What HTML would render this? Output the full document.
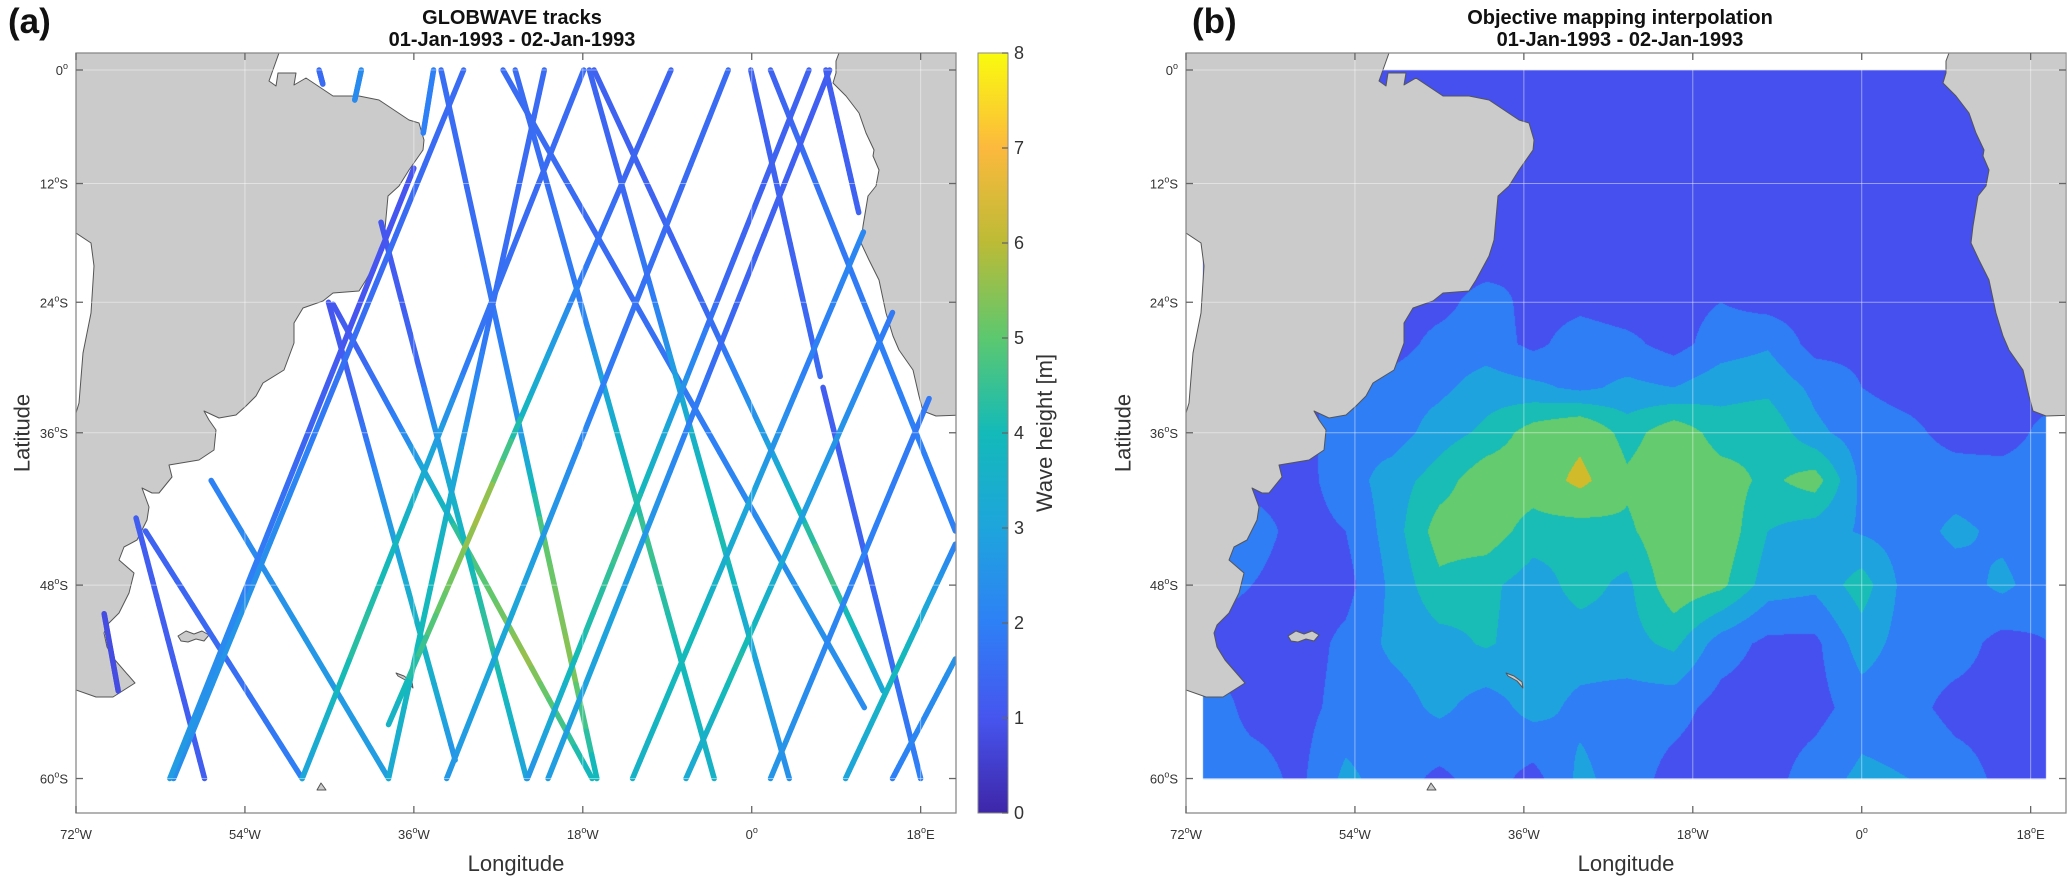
<!DOCTYPE html>
<html><head><meta charset="utf-8"><style>
html,body{margin:0;padding:0;background:#fff;}
#wrap{position:relative;width:2067px;height:877px;overflow:hidden;font-family:"Liberation Sans",sans-serif;}
canvas,svg{position:absolute;left:0;top:0;}
</style></head><body>
<div id="wrap">
<canvas id="cv" width="2067" height="877"></canvas>
<svg id="sv" width="2067" height="877" xmlns="http://www.w3.org/2000/svg">
<defs>
<clipPath id="clipA"><rect x="76" y="53" width="880" height="760"/></clipPath>
<clipPath id="clipB"><rect x="1186" y="53" width="879" height="760"/></clipPath>
<linearGradient id="cbgrad" x1="0" y1="1" x2="0" y2="0">
<stop offset="0" stop-color="#3e26a8"/><stop offset="0.125" stop-color="#4655ef"/><stop offset="0.25" stop-color="#2e80f6"/>
<stop offset="0.375" stop-color="#1ea5dc"/><stop offset="0.5" stop-color="#13bab9"/><stop offset="0.625" stop-color="#5cc86f"/>
<stop offset="0.75" stop-color="#bcbb36"/><stop offset="0.875" stop-color="#fcb93d"/><stop offset="1" stop-color="#f9fb0e"/>
</linearGradient>
</defs>
<g id="landA" clip-path="url(#clipA)"></g>
<g id="tracks" clip-path="url(#clipA)"></g>
<g id="landB" clip-path="url(#clipB)"></g>
<g id="grids"></g>
<g id="axes"></g>
<rect x="978" y="53" width="30" height="760" fill="url(#cbgrad)" stroke="#8a8a8a" stroke-width="1"/>
<g id="cbticks"></g>
<text x="1052" y="433" transform="rotate(-90 1052 433)" text-anchor="middle" font-size="22" fill="#333">Wave height [m]</text>
<text x="8" y="33" font-size="35" font-weight="bold" fill="#111">(a)</text>
<text x="1192" y="33" font-size="35" font-weight="bold" fill="#111">(b)</text>
<text x="512" y="24" text-anchor="middle" font-size="20" font-weight="bold" fill="#111">GLOBWAVE tracks</text>
<text x="512" y="46" text-anchor="middle" font-size="20" font-weight="bold" fill="#111">01-Jan-1993 - 02-Jan-1993</text>
<text x="1620" y="24" text-anchor="middle" font-size="20" font-weight="bold" fill="#111">Objective mapping interpolation</text>
<text x="1620" y="46" text-anchor="middle" font-size="20" font-weight="bold" fill="#111">01-Jan-1993 - 02-Jan-1993</text>
<text x="516" y="871" text-anchor="middle" font-size="22" fill="#333">Longitude</text>
<text x="1626" y="871" text-anchor="middle" font-size="22" fill="#333">Longitude</text>
<text x="22" y="433" transform="rotate(-90 22 433)" text-anchor="middle" dominant-baseline="central" font-size="22" fill="#333">Latitude</text>
<text x="1123" y="433" transform="rotate(-90 1123 433)" text-anchor="middle" dominant-baseline="central" font-size="22" fill="#333">Latitude</text>
</svg>
</div>
<script>
// ---- data ----
const lonTicks = [-72, -54, -36, -18, 0, 18];
const lonTickLabels = ["72", "54", "36", "18", "0", "18"];
const lonTickSuffix = ["W", "W", "W", "W", "", "E"];
const latTicks = [0, -12, -24, -36, -48, -60];
const latTickLabels = ["0", "12", "24", "36", "48", "60"];
const latTickSuffix = ["", "S", "S", "S", "S", "S"];
const cbTicks = [0, 1, 2, 3, 4, 5, 6, 7, 8];

const trackLon0 = [-46.1,-33.1,-26.5,-25.2,-17.3,-16.8,-0.1,7.6,2.0,7.9,-45.1,-44.6,-39.5,-57.6,-65.6,-64.6,-69.0,
                   -41.6,-33.9,-30.7,-22.1,-17.9,-8.6,-2.5,6.1,8.3,-36.0,11.9,15.0,18.9,21.7,21.7];
const trackLat0 = [0,0,0,0,0,0,0,-32,0,0,-24,-24.2,-16,-40,-43,-44,-50,
                   0,0,0,0,0,0,0,0,0,-10.4,-17,-25,-33,-45,-53];
const trackLon1 = [-45.7,-16.5,12,-4,4,14,7.3,18,21.7,11.4,-31.6,-17,-24,-38.7,-58.3,-47.9,-67.5,
                   -42.3,-35,-61.6,-38.7,-47.9,-38.7,-32.5,-23.9,-21.7,-62,-12.7,-7,2,10,15];
const trackLat1 = [-1.5,-60,-56,-60,-60,-55,-31,-60,-44,-15,-59,-60,-60,-60,-60,-60,-55,
                   -3.2,-6.7,-60,-60,-60,-57,-60,-60,-60,-60,-60,-60,-60,-60,-60];
const trackVals = [
 [1.5,1.5],[1.6,1.5,1.8,2.5,5.0,5.5,3.8],[1.5,1.5,1.5,1.8,2.2,2.5,2.3],[1.5,1.6,2.0,3.5,4.6,4.0,3.6],
 [1.4,1.4,2.0,3.5,4.2,3.0,2.4],[1.3,1.3,1.5,2.8,4.8,3.0],[1.3,1.3,1.5],[1.2,1.3,1.5,2.0],
 [1.3,1.8,2.0,2.0],[1.2,1.3],[1.0,1.5,2.8,3.8,2.5],[1.0,2.0,4.6,5.6,3.8],[1.0,1.4,3.5,4.5,3.0],
 [2.0,2.6,2.8],[1.2,1.2],[1.3,1.5,2.0],[0.8,0.8],
 [2.3,2.3],[2.0,2.0],[1.5,1.5,1.6,2.2,2.6,2.4],[1.5,1.5,1.6,2.5,3.8,4.0,3.2],[1.5,1.5,1.8,3.5,4.4,3.0],
 [1.4,1.4,2.0,3.5,5.8,5.0,3.5],[1.5,1.5,1.8,2.5,3.2,2.6],[1.3,1.3,1.5,3.0,4.6,4.0,2.5],[1.2,1.3,1.5,2.5,3.0,2.8],
 [1.0,1.0,1.5,2.2,2.8],[2.2,2.0,3.0,4.0,3.6],[1.8,2.5,3.0,4.2,3.2],[1.8,2.0,2.2,2.6],[2.0,4.0,3.0],[2.5,2.0]];

const gridLons = [-70,-65,-60,-55,-50,-45,-40,-35,-30,-25,-20,-15,-10,-5,0,5,10,15,20];
const gridLats = [0,-4,-8,-12,-16,-20,-24,-28,-32,-36,-40,-44,-48,-52,-56,-60];
const row00 = [1.2,1.2,1.2,1.2,1.2,1.2,1.2,1.2,1.2,1.2,1.2,1.2,1.2,1.2,1.2,1.2,1.2,1.2,1.2];
const row04 = [1.2,1.2,1.2,1.2,1.2,1.2,1.2,1.2,1.2,1.2,1.2,1.2,1.2,1.2,1.2,1.2,1.2,1.2,1.2];
const row08 = [1.2,1.2,1.2,1.2,1.2,1.2,1.2,1.2,1.2,1.2,1.2,1.2,1.2,1.2,1.2,1.2,1.2,1.2,1.2];
const row12 = [1.2,1.2,1.2,1.2,1.2,1.2,1.2,1.2,1.2,1.2,1.2,1.2,1.2,1.2,1.2,1.2,1.3,1.2,1.2];
const row16 = [1.2,1.2,1.2,1.2,1.2,1.2,1.2,1.4,1.2,1.2,1.3,1.2,1.2,1.2,1.2,1.2,1.3,1.2,1.2];
const row20 = [1.2,1.2,1.2,1.2,1.2,1.2,1.2,1.6,1.2,1.2,1.2,1.4,1.2,1.2,1.2,1.4,1.5,1.2,1.2];
const row24 = [1.2,1.2,1.2,1.2,1.2,1.3,2.0,1.3,1.4,1.2,1.3,1.6,1.3,1.2,1.3,1.2,1.2,1.2,1.2];
const row28 = [1.2,1.2,1.2,1.2,1.2,1.9,2.0,1.4,2.0,1.8,1.3,2.0,2.3,1.3,1.4,1.2,1.2,1.3,1.2];
const row32 = [1.2,1.2,1.2,2.0,2.0,2.2,2.8,2.6,2.2,2.6,2.4,2.9,3.0,2.2,1.6,1.3,1.3,1.4,1.2];
const row36 = [1.2,1.2,1.2,2.2,2.0,2.8,3.4,4.4,5.0,3.6,4.6,3.6,3.8,2.6,2.0,1.8,1.3,1.2,1.9];
const row40 = [1.2,1.3,1.3,2.0,2.8,3.6,4.6,4.5,5.8,4.2,4.8,4.4,3.8,4.4,2.2,2.0,2.0,2.0,2.0];
const row44 = [1.2,2.0,1.3,1.6,2.8,4.4,4.5,3.6,3.4,3.8,4.8,4.6,3.2,2.8,2.3,2.0,2.6,2.2,1.9];
const row48 = [2.0,1.6,1.2,1.3,2.6,3.8,3.4,2.8,3.5,3.0,4.6,4.2,2.8,2.6,3.6,2.0,2.0,2.6,1.9];
const row52 = [1.2,1.2,1.2,1.8,2.6,2.9,3.3,2.8,2.8,2.9,3.4,2.0,1.4,1.4,2.8,2.0,2.0,1.3,1.6];
const row56 = [2.2,1.3,1.3,1.9,2.0,2.6,2.0,2.7,2.2,2.0,1.9,1.3,1.2,1.3,2.0,1.9,1.3,1.3,1.4];
const row60 = [1.9,2.0,1.4,2.6,2.0,1.4,2.0,1.3,2.6,2.0,1.3,1.2,1.3,2.0,2.6,2.4,2.0,1.4,1.4];
const gridValues = [row00,row04,row08,row12,row16,row20,row24,row28,row32,row36,row40,row44,row48,row52,row56,row60];
const levelBounds = [1.0,1.6,2.4,3.2,4.0,5.4];

const levelColors = ["#3b2fc2","#4650ee","#2f7ef6","#1fa3df","#19bdb5","#64cb6e","#d2bb2b"];
const parulaStops = [[0,[62,38,168]],[0.125,[70,85,239]],[0.25,[46,128,246]],[0.375,[30,165,220]],[0.5,[19,186,185]],
  [0.625,[92,200,111]],[0.75,[188,187,54]],[0.875,[252,185,61]],[1,[249,251,14]]];
const PA = 76, PB = 1186, PX = 9.385;
function X(lon, left){ return left + (lon + 72) * PX; }
function Y(lat){ const r = lat * Math.PI / 180; return 70 - 538 * Math.log(Math.tan(Math.PI / 4 + r / 2)); }
function latFromY(y){ const m = -(y - 70) / 538; return (2 * Math.atan(Math.exp(m)) - Math.PI / 2) * 180 / Math.PI; }
function parula(t){
  t = Math.max(0, Math.min(1, t));
  for (let i = 1; i < parulaStops.length; i++) {
    if (t <= parulaStops[i][0]) {
      const a = parulaStops[i-1], b = parulaStops[i], f = (t - a[0]) / (b[0] - a[0]);
      const c = a[1].map((v, k) => Math.round(v + (b[1][k] - v) * f));
      return "rgb(" + c.join(",") + ")";
    }
  }
  return "rgb(249,251,14)";
}
const NS = "http://www.w3.org/2000/svg";
function mk(tag, attrs, parent){ const e = document.createElementNS(NS, tag); for (const k in attrs) e.setAttribute(k, attrs[k]); parent.appendChild(e); return e; }

(function(){
  const cv = document.getElementById('cv'), ctx = cv.getContext('2d');
  const x0 = Math.round(X(-70.2, PB)), x1 = Math.round(X(19.6, PB)), y0 = Math.round(Y(0)), y1 = Math.round(Y(-60));
  const w = x1 - x0, h = y1 - y0;
  const img = ctx.createImageData(w, h);
  const cols = levelColors.map(c => [parseInt(c.substr(1,2),16), parseInt(c.substr(3,2),16), parseInt(c.substr(5,2),16)]);
  const nL = gridLons.length, nR = gridLats.length;
  for (let py = 0; py < h; py++) {
    const lat = latFromY(y0 + py + 0.5);
    let fr = (gridLats[0] - lat) / (gridLats[0] - gridLats[1]);
    fr = Math.max(0, Math.min(nR - 1.0001, fr));
    const r = Math.floor(fr), ry = fr - r;
    for (let px = 0; px < w; px++) {
      const lon = (x0 + px + 0.5 - PB) / PX - 72;
      let fc = (lon - gridLons[0]) / (gridLons[1] - gridLons[0]);
      fc = Math.max(0, Math.min(nL - 1.0001, fc));
      const c = Math.floor(fc), cx = fc - c;
      const v = gridValues[r][c] * (1-cx) * (1-ry) + gridValues[r][c+1] * cx * (1-ry) + gridValues[r+1][c] * (1-cx) * ry + gridValues[r+1][c+1] * cx * ry;
      let li = 0; while (li < levelBounds.length && v >= levelBounds[li]) li++;
      const col = cols[li], o = (py * w + px) * 4;
      img.data[o] = col[0]; img.data[o+1] = col[1]; img.data[o+2] = col[2]; img.data[o+3] = 255;
    }
  }
  ctx.putImageData(img, x0, y0);
})();

const saCoast = [[76,53],[279,53],[269,81],[276,86],[278,73],[296,73],[294,85],[306,78],[333,96],[359,96],[379,100],[409,120],[419,123],[424,140],[423,150],[409,170],[399,186],[388,196],[384,240],[379,256],[366,280],[359,291],[333,293],[323,301],[303,308],[294,323],[294,343],[284,370],[263,383],[256,396],[246,406],[236,415],[219,418],[204,411],[209,420],[216,430],[214,450],[199,460],[169,465],[172,477],[159,493],[152,493],[142,488],[149,507],[147,520],[137,540],[124,547],[119,560],[134,573],[129,593],[119,613],[107,625],[104,633],[107,647],[115,660],[135,683],[113,697],[96,697],[76,690],[76,413],[79,403],[83,353],[91,313],[94,266],[91,243],[76,233]];
const afCoast = [[839,53],[836,61],[836,73],[833,83],[846,96],[859,113],[866,133],[874,150],[873,156],[879,170],[876,186],[868,196],[863,226],[861,243],[869,260],[879,280],[886,313],[893,336],[899,350],[913,370],[919,396],[923,411],[936,416],[965,415],[965,53]];
const falk = [[178,636],[186,631],[194,634],[202,631],[209,635],[204,641],[196,639],[188,642],[181,641]];
const sgeo = [[396,673],[404,676],[412,682],[413,688],[407,681],[398,676]];
const rock = [[317,790],[321,783],[326,790]];
function drawLand(g, dx){
  [saCoast, afCoast, falk, sgeo, rock].forEach((poly, i) => {
    const p = mk('polygon', {points: poly.map(q => (q[0]+dx) + ',' + q[1]).join(' '), fill:'#cbcbcb', stroke:'#555', 'stroke-width':'1', 'stroke-linejoin':'round'}, g);
    
    
  });
}
drawLand(document.getElementById('landA'), 0);
drawLand(document.getElementById('landB'), PB - PA);

(function(){
  const g = document.getElementById('tracks');
  for (let i = 0; i < trackLon0.length; i++) {
    const xa = X(trackLon0[i], PA), ya = Y(trackLat0[i]), xb = X(trackLon1[i], PA), yb = Y(trackLat1[i]);
    const vals = trackVals[i], n = 30;
    const tg = mk('g', {}, g);
    
    
    for (let s = 0; s < n; s++) {
      const t0 = s / n, t1 = (s + 1) / n, tm = (t0 + t1) / 2;
      const fv = tm * (vals.length - 1), k = Math.min(vals.length - 2, Math.floor(fv));
      const v = vals.length === 1 ? vals[0] : vals[k] + (vals[k+1] - vals[k]) * (fv - k);
      const seg = mk('line', {x1: xa + (xb-xa)*t0, y1: ya + (yb-ya)*t0, x2: xa + (xb-xa)*t1, y2: ya + (yb-ya)*t1,
        stroke: parula(v / 8), 'stroke-width': 5.5, 'stroke-linecap': 'round'}, tg);
      
      
    }
  }
})();

(function(){
  const gg = document.getElementById('grids'), ax = document.getElementById('axes');
  [PA, PB].forEach((left, pi) => {
    const right = left + 880;
    lonTicks.forEach(lon => {
      const x = X(lon, left);
      const gl = mk('line', {x1:x, y1:53, x2:x, y2:813, stroke:'#fff', 'stroke-opacity':0.45, 'stroke-width':1}, gg);
       
    });
    latTicks.forEach(lat => {
      const y = Y(lat);
      const gl = mk('line', {x1:left, y1:y, x2:right, y2:y, stroke:'#fff', 'stroke-opacity':0.45, 'stroke-width':1}, gg);
       
    });
    const fr = mk('rect', {x:left, y:53, width:880, height:760, fill:'none', stroke:'#8a8a8a', 'stroke-width':1.3}, ax);
     
    lonTicks.forEach((lon, i) => {
      const x = X(lon, left);
      mk('line', {x1:x, y1:53, x2:x, y2:60, stroke:'#666', 'stroke-width':1.3}, ax);
      mk('line', {x1:x, y1:813, x2:x, y2:806, stroke:'#666', 'stroke-width':1.3}, ax);
      const t = mk('text', {x:x, y:839, 'text-anchor':'middle', 'font-size':13, fill:'#333'}, ax);
       
      t.appendChild(document.createTextNode(lonTickLabels[i]));
      const sp = mk('tspan', {dy:-6, 'font-size':9}, t); sp.textContent = 'o';
      const sp2 = mk('tspan', {dy:6}, t); sp2.textContent = lonTickSuffix[i];
    });
    latTicks.forEach((lat, i) => {
      const y = Y(lat);
      mk('line', {x1:left, y1:y, x2:left+7, y2:y, stroke:'#666', 'stroke-width':1.3}, ax);
      mk('line', {x1:right, y1:y, x2:right-7, y2:y, stroke:'#666', 'stroke-width':1.3}, ax);
      const t = mk('text', {x:left-8, y:y+5, 'text-anchor':'end', 'font-size':13, fill:'#333'}, ax);
       
      t.appendChild(document.createTextNode(latTickLabels[i]));
      const sp = mk('tspan', {dy:-6, 'font-size':9}, t); sp.textContent = 'o';
      const sp2 = mk('tspan', {dy:6}, t); sp2.textContent = latTickSuffix[i];
    });
  });
  const cb = document.getElementById('cbticks');
  cbTicks.forEach(v => {
    const y = 813 - v * 95;
    mk('line', {x1:1008, y1:y, x2:1002, y2:y, stroke:'#666', 'stroke-width':1.3}, cb);
    const t = mk('text', {x:1014, y:y+6, 'font-size':18, fill:'#333'}, cb);
     
    t.textContent = String(v);
  });
})();
</script>
</body></html>
